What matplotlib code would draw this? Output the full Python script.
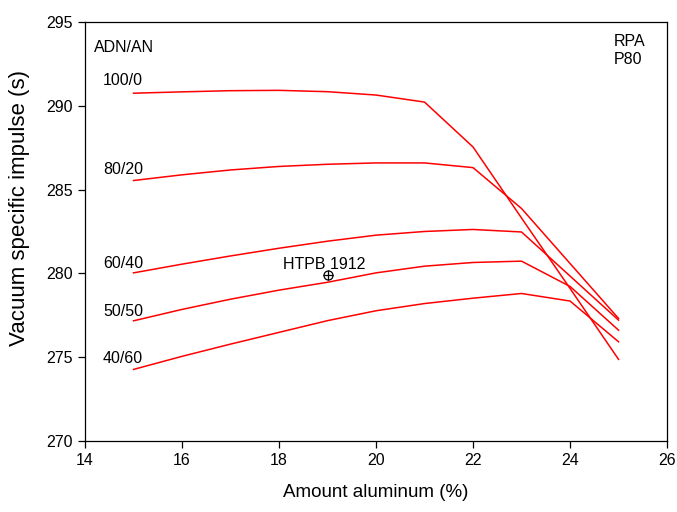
import matplotlib
matplotlib.use("Agg")
import matplotlib.pyplot as plt
import numpy as np

plt.rcParams['font.family'] = ['Liberation Sans', 'DejaVu Sans']

# Amount aluminum (%)
aluminio = [15, 16, 17, 18, 19, 20, 21, 22, 23, 24, 25]

# Vacuum specific impulse (s) per ADN/AN ratio
isp_100_0 = [290.75, 290.83, 290.90, 290.92, 290.84, 290.64, 290.22, 287.54, 283.30, 279.10, 274.87]
isp_80_20 = [285.54, 285.88, 286.17, 286.38, 286.51, 286.59, 286.59, 286.31, 283.87, 280.59, 277.31]
isp_60_40 = [280.03, 280.55, 281.04, 281.50, 281.92, 282.28, 282.50, 282.62, 282.47, 279.84, 277.21]
isp_50_50 = [277.17, 277.85, 278.46, 279.00, 279.47, 280.03, 280.43, 280.65, 280.73, 279.22, 276.61]
isp_40_60 = [274.27, 275.05, 275.78, 276.48, 277.18, 277.77, 278.20, 278.52, 278.80, 278.35, 275.92]

series = [isp_100_0, isp_80_20, isp_60_40, isp_50_50, isp_40_60]
etiquetas = ["100/0", "80/20", "60/40", "50/50", "40/60"]
etiq_y = [291.5, 286.2, 280.6, 277.7, 274.9]

# reference propellant
htpb_x = 19.0
htpb_y = 279.93

fig = plt.figure(figsize=(6.77, 5.12), dpi=100)
ax = fig.add_axes([0.1256, 0.1387, 0.8597, 0.8184])

for s in series:
    ax.plot(aluminio, s, color="red", linewidth=1.1)

for t, yy in zip(etiquetas, etiq_y):
    ax.text(14.37, yy, t, fontsize=11.5, va="center", ha="left")

ax.text(14.18, 293.5, "ADN/AN", fontsize=11.5, va="center", ha="left")
ax.text(24.9, 293.3, "RPA\nP80", fontsize=11.5, va="center", ha="left", linespacing=1.2)

ax.plot([htpb_x], [htpb_y], marker="o", mfc="none", mec="black", ms=6.5, mew=0.9)
ax.plot([htpb_x], [htpb_y], marker="+", color="black", ms=6.5, mew=0.9)
ax.text(18.09, 280.55, "HTPB 1912", fontsize=11.5, va="center", ha="left")

ax.set_xlim(14, 26)
ax.set_ylim(270, 295)
ax.set_xticks(np.arange(14, 27, 2))
ax.set_yticks(np.arange(270, 296, 5))
ax.tick_params(direction="out", length=5, width=0.9, labelsize=11.5, top=False, right=False)
for sp in ax.spines.values():
    sp.set_linewidth(0.9)

ax.set_xlabel("Amount aluminum (%)", fontsize=13.5, labelpad=12)
ax.set_ylabel("Vacuum specific impulse (s)", fontsize=16)
ax.yaxis.set_label_coords(-0.095, 0.555)

fig.savefig("out.png", dpi=100)
